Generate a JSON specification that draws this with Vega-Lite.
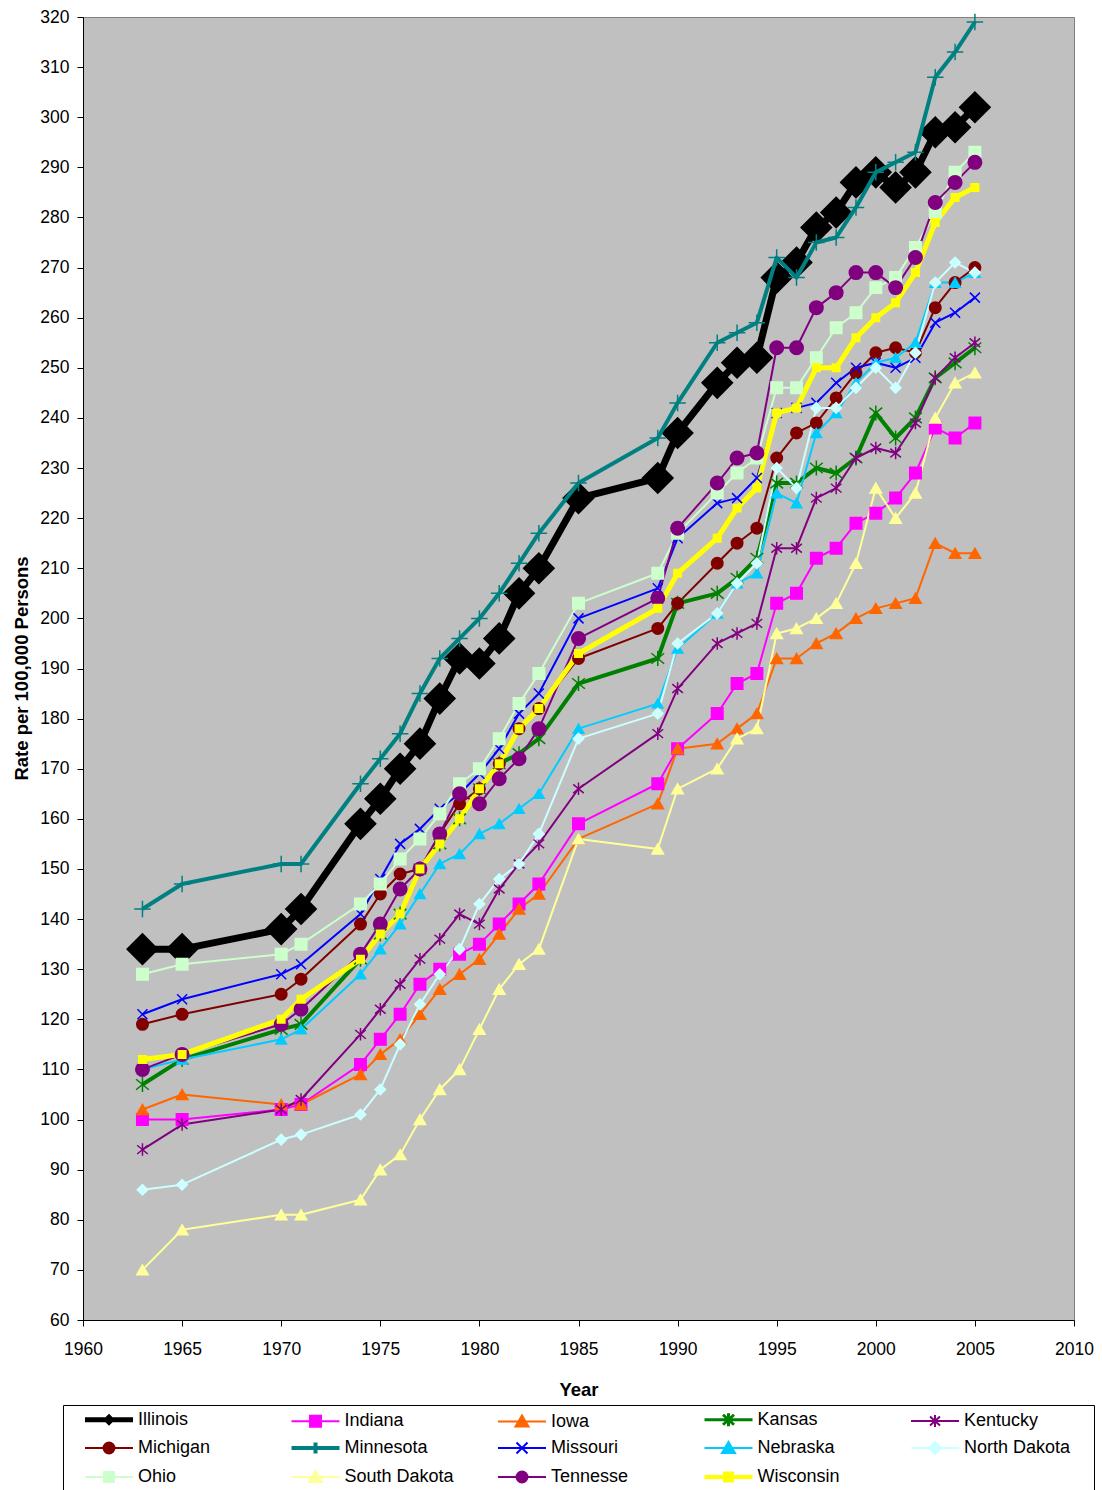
{
  "$schema": "https://vega.github.io/schema/vega-lite/v6.json",
  "width": 991,
  "height": 1303,
  "autosize": {"type": "none"},
  "padding": {"left": 83, "top": 17, "right": 28, "bottom": 170},
  "background": "white",
  "data": {
    "values": [
      {"state":"Illinois","year":1963,"rate":134},{"state":"Illinois","year":1965,"rate":134},{"state":"Illinois","year":1970,"rate":138},{"state":"Illinois","year":1971,"rate":142},{"state":"Illinois","year":1974,"rate":159},{"state":"Illinois","year":1975,"rate":164},{"state":"Illinois","year":1976,"rate":170},{"state":"Illinois","year":1977,"rate":175},{"state":"Illinois","year":1978,"rate":184},{"state":"Illinois","year":1979,"rate":192},{"state":"Illinois","year":1980,"rate":191},{"state":"Illinois","year":1981,"rate":196},{"state":"Illinois","year":1982,"rate":205},{"state":"Illinois","year":1983,"rate":210},{"state":"Illinois","year":1985,"rate":224},{"state":"Illinois","year":1989,"rate":228},{"state":"Illinois","year":1990,"rate":237},{"state":"Illinois","year":1992,"rate":247},{"state":"Illinois","year":1993,"rate":251},{"state":"Illinois","year":1994,"rate":252},{"state":"Illinois","year":1995,"rate":268},{"state":"Illinois","year":1996,"rate":271},{"state":"Illinois","year":1997,"rate":278},{"state":"Illinois","year":1998,"rate":281},{"state":"Illinois","year":1999,"rate":287},{"state":"Illinois","year":2000,"rate":289},{"state":"Illinois","year":2001,"rate":286},{"state":"Illinois","year":2002,"rate":289},{"state":"Illinois","year":2003,"rate":297},{"state":"Illinois","year":2004,"rate":298},{"state":"Illinois","year":2005,"rate":302},
      {"state":"Indiana","year":1963,"rate":100},{"state":"Indiana","year":1965,"rate":100},{"state":"Indiana","year":1970,"rate":102},{"state":"Indiana","year":1971,"rate":103},{"state":"Indiana","year":1974,"rate":111},{"state":"Indiana","year":1975,"rate":116},{"state":"Indiana","year":1976,"rate":121},{"state":"Indiana","year":1977,"rate":127},{"state":"Indiana","year":1978,"rate":130},{"state":"Indiana","year":1979,"rate":133},{"state":"Indiana","year":1980,"rate":135},{"state":"Indiana","year":1981,"rate":139},{"state":"Indiana","year":1982,"rate":143},{"state":"Indiana","year":1983,"rate":147},{"state":"Indiana","year":1985,"rate":159},{"state":"Indiana","year":1989,"rate":167},{"state":"Indiana","year":1990,"rate":174},{"state":"Indiana","year":1992,"rate":181},{"state":"Indiana","year":1993,"rate":187},{"state":"Indiana","year":1994,"rate":189},{"state":"Indiana","year":1995,"rate":203},{"state":"Indiana","year":1996,"rate":205},{"state":"Indiana","year":1997,"rate":212},{"state":"Indiana","year":1998,"rate":214},{"state":"Indiana","year":1999,"rate":219},{"state":"Indiana","year":2000,"rate":221},{"state":"Indiana","year":2001,"rate":224},{"state":"Indiana","year":2002,"rate":229},{"state":"Indiana","year":2003,"rate":238},{"state":"Indiana","year":2004,"rate":236},{"state":"Indiana","year":2005,"rate":239},
      {"state":"Iowa","year":1963,"rate":102},{"state":"Iowa","year":1965,"rate":105},{"state":"Iowa","year":1970,"rate":103},{"state":"Iowa","year":1971,"rate":103},{"state":"Iowa","year":1974,"rate":109},{"state":"Iowa","year":1975,"rate":113},{"state":"Iowa","year":1976,"rate":116},{"state":"Iowa","year":1977,"rate":121},{"state":"Iowa","year":1978,"rate":126},{"state":"Iowa","year":1979,"rate":129},{"state":"Iowa","year":1980,"rate":132},{"state":"Iowa","year":1981,"rate":137},{"state":"Iowa","year":1982,"rate":142},{"state":"Iowa","year":1983,"rate":145},{"state":"Iowa","year":1985,"rate":156},{"state":"Iowa","year":1989,"rate":163},{"state":"Iowa","year":1990,"rate":174},{"state":"Iowa","year":1992,"rate":175},{"state":"Iowa","year":1993,"rate":178},{"state":"Iowa","year":1994,"rate":181},{"state":"Iowa","year":1995,"rate":192},{"state":"Iowa","year":1996,"rate":192},{"state":"Iowa","year":1997,"rate":195},{"state":"Iowa","year":1998,"rate":197},{"state":"Iowa","year":1999,"rate":200},{"state":"Iowa","year":2000,"rate":202},{"state":"Iowa","year":2001,"rate":203},{"state":"Iowa","year":2002,"rate":204},{"state":"Iowa","year":2003,"rate":215},{"state":"Iowa","year":2004,"rate":213},{"state":"Iowa","year":2005,"rate":213},
      {"state":"Kansas","year":1963,"rate":107},{"state":"Kansas","year":1965,"rate":112},{"state":"Kansas","year":1970,"rate":118},{"state":"Kansas","year":1971,"rate":119},{"state":"Kansas","year":1974,"rate":132},{"state":"Kansas","year":1975,"rate":137},{"state":"Kansas","year":1976,"rate":141},{"state":"Kansas","year":1977,"rate":150},{"state":"Kansas","year":1978,"rate":155},{"state":"Kansas","year":1979,"rate":160},{"state":"Kansas","year":1980,"rate":166},{"state":"Kansas","year":1981,"rate":171},{"state":"Kansas","year":1982,"rate":173},{"state":"Kansas","year":1983,"rate":176},{"state":"Kansas","year":1985,"rate":187},{"state":"Kansas","year":1989,"rate":192},{"state":"Kansas","year":1990,"rate":203},{"state":"Kansas","year":1992,"rate":205},{"state":"Kansas","year":1993,"rate":208},{"state":"Kansas","year":1994,"rate":212},{"state":"Kansas","year":1995,"rate":227},{"state":"Kansas","year":1996,"rate":227},{"state":"Kansas","year":1997,"rate":230},{"state":"Kansas","year":1998,"rate":229},{"state":"Kansas","year":1999,"rate":232},{"state":"Kansas","year":2000,"rate":241},{"state":"Kansas","year":2001,"rate":236},{"state":"Kansas","year":2002,"rate":240},{"state":"Kansas","year":2003,"rate":248},{"state":"Kansas","year":2004,"rate":251},{"state":"Kansas","year":2005,"rate":254},
      {"state":"Kentucky","year":1963,"rate":94},{"state":"Kentucky","year":1965,"rate":99},{"state":"Kentucky","year":1970,"rate":102},{"state":"Kentucky","year":1971,"rate":104},{"state":"Kentucky","year":1974,"rate":117},{"state":"Kentucky","year":1975,"rate":122},{"state":"Kentucky","year":1976,"rate":127},{"state":"Kentucky","year":1977,"rate":132},{"state":"Kentucky","year":1978,"rate":136},{"state":"Kentucky","year":1979,"rate":141},{"state":"Kentucky","year":1980,"rate":139},{"state":"Kentucky","year":1981,"rate":146},{"state":"Kentucky","year":1982,"rate":151},{"state":"Kentucky","year":1983,"rate":155},{"state":"Kentucky","year":1985,"rate":166},{"state":"Kentucky","year":1989,"rate":177},{"state":"Kentucky","year":1990,"rate":186},{"state":"Kentucky","year":1992,"rate":195},{"state":"Kentucky","year":1993,"rate":197},{"state":"Kentucky","year":1994,"rate":199},{"state":"Kentucky","year":1995,"rate":214},{"state":"Kentucky","year":1996,"rate":214},{"state":"Kentucky","year":1997,"rate":224},{"state":"Kentucky","year":1998,"rate":226},{"state":"Kentucky","year":1999,"rate":232},{"state":"Kentucky","year":2000,"rate":234},{"state":"Kentucky","year":2001,"rate":233},{"state":"Kentucky","year":2002,"rate":239},{"state":"Kentucky","year":2003,"rate":248},{"state":"Kentucky","year":2004,"rate":252},{"state":"Kentucky","year":2005,"rate":255},
      {"state":"Michigan","year":1963,"rate":119},{"state":"Michigan","year":1965,"rate":121},{"state":"Michigan","year":1970,"rate":125},{"state":"Michigan","year":1971,"rate":128},{"state":"Michigan","year":1974,"rate":139},{"state":"Michigan","year":1975,"rate":145},{"state":"Michigan","year":1976,"rate":149},{"state":"Michigan","year":1977,"rate":150},{"state":"Michigan","year":1978,"rate":157},{"state":"Michigan","year":1979,"rate":163},{"state":"Michigan","year":1980,"rate":166},{"state":"Michigan","year":1981,"rate":171},{"state":"Michigan","year":1982,"rate":178},{"state":"Michigan","year":1983,"rate":182},{"state":"Michigan","year":1985,"rate":192},{"state":"Michigan","year":1989,"rate":198},{"state":"Michigan","year":1990,"rate":203},{"state":"Michigan","year":1992,"rate":211},{"state":"Michigan","year":1993,"rate":215},{"state":"Michigan","year":1994,"rate":218},{"state":"Michigan","year":1995,"rate":232},{"state":"Michigan","year":1996,"rate":237},{"state":"Michigan","year":1997,"rate":239},{"state":"Michigan","year":1998,"rate":244},{"state":"Michigan","year":1999,"rate":249},{"state":"Michigan","year":2000,"rate":253},{"state":"Michigan","year":2001,"rate":254},{"state":"Michigan","year":2002,"rate":253},{"state":"Michigan","year":2003,"rate":262},{"state":"Michigan","year":2004,"rate":267},{"state":"Michigan","year":2005,"rate":270},
      {"state":"Minnesota","year":1963,"rate":142},{"state":"Minnesota","year":1965,"rate":147},{"state":"Minnesota","year":1970,"rate":151},{"state":"Minnesota","year":1971,"rate":151},{"state":"Minnesota","year":1974,"rate":167},{"state":"Minnesota","year":1975,"rate":172},{"state":"Minnesota","year":1976,"rate":177},{"state":"Minnesota","year":1977,"rate":185},{"state":"Minnesota","year":1978,"rate":192},{"state":"Minnesota","year":1979,"rate":196},{"state":"Minnesota","year":1980,"rate":200},{"state":"Minnesota","year":1981,"rate":205},{"state":"Minnesota","year":1982,"rate":211},{"state":"Minnesota","year":1983,"rate":217},{"state":"Minnesota","year":1985,"rate":227},{"state":"Minnesota","year":1989,"rate":236},{"state":"Minnesota","year":1990,"rate":243},{"state":"Minnesota","year":1992,"rate":255},{"state":"Minnesota","year":1993,"rate":257},{"state":"Minnesota","year":1994,"rate":259},{"state":"Minnesota","year":1995,"rate":272},{"state":"Minnesota","year":1996,"rate":268},{"state":"Minnesota","year":1997,"rate":275},{"state":"Minnesota","year":1998,"rate":276},{"state":"Minnesota","year":1999,"rate":282},{"state":"Minnesota","year":2000,"rate":289},{"state":"Minnesota","year":2001,"rate":291},{"state":"Minnesota","year":2002,"rate":293},{"state":"Minnesota","year":2003,"rate":308},{"state":"Minnesota","year":2004,"rate":313},{"state":"Minnesota","year":2005,"rate":319},
      {"state":"Missouri","year":1963,"rate":121},{"state":"Missouri","year":1965,"rate":124},{"state":"Missouri","year":1970,"rate":129},{"state":"Missouri","year":1971,"rate":131},{"state":"Missouri","year":1974,"rate":141},{"state":"Missouri","year":1975,"rate":148},{"state":"Missouri","year":1976,"rate":155},{"state":"Missouri","year":1977,"rate":158},{"state":"Missouri","year":1978,"rate":162},{"state":"Missouri","year":1979,"rate":165},{"state":"Missouri","year":1980,"rate":169},{"state":"Missouri","year":1981,"rate":174},{"state":"Missouri","year":1982,"rate":181},{"state":"Missouri","year":1983,"rate":185},{"state":"Missouri","year":1985,"rate":200},{"state":"Missouri","year":1989,"rate":206},{"state":"Missouri","year":1990,"rate":216},{"state":"Missouri","year":1992,"rate":223},{"state":"Missouri","year":1993,"rate":224},{"state":"Missouri","year":1994,"rate":228},{"state":"Missouri","year":1995,"rate":241},{"state":"Missouri","year":1996,"rate":242},{"state":"Missouri","year":1997,"rate":243},{"state":"Missouri","year":1998,"rate":247},{"state":"Missouri","year":1999,"rate":250},{"state":"Missouri","year":2000,"rate":251},{"state":"Missouri","year":2001,"rate":250},{"state":"Missouri","year":2002,"rate":252},{"state":"Missouri","year":2003,"rate":259},{"state":"Missouri","year":2004,"rate":261},{"state":"Missouri","year":2005,"rate":264},
      {"state":"Nebraska","year":1963,"rate":110},{"state":"Nebraska","year":1965,"rate":112},{"state":"Nebraska","year":1970,"rate":116},{"state":"Nebraska","year":1971,"rate":118},{"state":"Nebraska","year":1974,"rate":129},{"state":"Nebraska","year":1975,"rate":134},{"state":"Nebraska","year":1976,"rate":139},{"state":"Nebraska","year":1977,"rate":145},{"state":"Nebraska","year":1978,"rate":151},{"state":"Nebraska","year":1979,"rate":153},{"state":"Nebraska","year":1980,"rate":157},{"state":"Nebraska","year":1981,"rate":159},{"state":"Nebraska","year":1982,"rate":162},{"state":"Nebraska","year":1983,"rate":165},{"state":"Nebraska","year":1985,"rate":178},{"state":"Nebraska","year":1989,"rate":183},{"state":"Nebraska","year":1990,"rate":194},{"state":"Nebraska","year":1992,"rate":201},{"state":"Nebraska","year":1993,"rate":207},{"state":"Nebraska","year":1994,"rate":209},{"state":"Nebraska","year":1995,"rate":225},{"state":"Nebraska","year":1996,"rate":223},{"state":"Nebraska","year":1997,"rate":237},{"state":"Nebraska","year":1998,"rate":241},{"state":"Nebraska","year":1999,"rate":247},{"state":"Nebraska","year":2000,"rate":251},{"state":"Nebraska","year":2001,"rate":252},{"state":"Nebraska","year":2002,"rate":255},{"state":"Nebraska","year":2003,"rate":267},{"state":"Nebraska","year":2004,"rate":267},{"state":"Nebraska","year":2005,"rate":269},
      {"state":"North Dakota","year":1963,"rate":86},{"state":"North Dakota","year":1965,"rate":87},{"state":"North Dakota","year":1970,"rate":96},{"state":"North Dakota","year":1971,"rate":97},{"state":"North Dakota","year":1974,"rate":101},{"state":"North Dakota","year":1975,"rate":106},{"state":"North Dakota","year":1976,"rate":115},{"state":"North Dakota","year":1977,"rate":123},{"state":"North Dakota","year":1978,"rate":129},{"state":"North Dakota","year":1979,"rate":134},{"state":"North Dakota","year":1980,"rate":143},{"state":"North Dakota","year":1981,"rate":148},{"state":"North Dakota","year":1982,"rate":151},{"state":"North Dakota","year":1983,"rate":157},{"state":"North Dakota","year":1985,"rate":176},{"state":"North Dakota","year":1989,"rate":181},{"state":"North Dakota","year":1990,"rate":195},{"state":"North Dakota","year":1992,"rate":201},{"state":"North Dakota","year":1993,"rate":207},{"state":"North Dakota","year":1994,"rate":211},{"state":"North Dakota","year":1995,"rate":230},{"state":"North Dakota","year":1996,"rate":226},{"state":"North Dakota","year":1997,"rate":242},{"state":"North Dakota","year":1998,"rate":242},{"state":"North Dakota","year":1999,"rate":246},{"state":"North Dakota","year":2000,"rate":250},{"state":"North Dakota","year":2001,"rate":246},{"state":"North Dakota","year":2002,"rate":253},{"state":"North Dakota","year":2003,"rate":267},{"state":"North Dakota","year":2004,"rate":271},{"state":"North Dakota","year":2005,"rate":269},
      {"state":"Ohio","year":1963,"rate":129},{"state":"Ohio","year":1965,"rate":131},{"state":"Ohio","year":1970,"rate":133},{"state":"Ohio","year":1971,"rate":135},{"state":"Ohio","year":1974,"rate":143},{"state":"Ohio","year":1975,"rate":147},{"state":"Ohio","year":1976,"rate":152},{"state":"Ohio","year":1977,"rate":156},{"state":"Ohio","year":1978,"rate":161},{"state":"Ohio","year":1979,"rate":167},{"state":"Ohio","year":1980,"rate":170},{"state":"Ohio","year":1981,"rate":176},{"state":"Ohio","year":1982,"rate":183},{"state":"Ohio","year":1983,"rate":189},{"state":"Ohio","year":1985,"rate":203},{"state":"Ohio","year":1989,"rate":209},{"state":"Ohio","year":1990,"rate":217},{"state":"Ohio","year":1992,"rate":225},{"state":"Ohio","year":1993,"rate":229},{"state":"Ohio","year":1994,"rate":232},{"state":"Ohio","year":1995,"rate":246},{"state":"Ohio","year":1996,"rate":246},{"state":"Ohio","year":1997,"rate":252},{"state":"Ohio","year":1998,"rate":258},{"state":"Ohio","year":1999,"rate":261},{"state":"Ohio","year":2000,"rate":266},{"state":"Ohio","year":2001,"rate":268},{"state":"Ohio","year":2002,"rate":274},{"state":"Ohio","year":2003,"rate":281},{"state":"Ohio","year":2004,"rate":289},{"state":"Ohio","year":2005,"rate":293},
      {"state":"South Dakota","year":1963,"rate":70},{"state":"South Dakota","year":1965,"rate":78},{"state":"South Dakota","year":1970,"rate":81},{"state":"South Dakota","year":1971,"rate":81},{"state":"South Dakota","year":1974,"rate":84},{"state":"South Dakota","year":1975,"rate":90},{"state":"South Dakota","year":1976,"rate":93},{"state":"South Dakota","year":1977,"rate":100},{"state":"South Dakota","year":1978,"rate":106},{"state":"South Dakota","year":1979,"rate":110},{"state":"South Dakota","year":1980,"rate":118},{"state":"South Dakota","year":1981,"rate":126},{"state":"South Dakota","year":1982,"rate":131},{"state":"South Dakota","year":1983,"rate":134},{"state":"South Dakota","year":1985,"rate":156},{"state":"South Dakota","year":1989,"rate":154},{"state":"South Dakota","year":1990,"rate":166},{"state":"South Dakota","year":1992,"rate":170},{"state":"South Dakota","year":1993,"rate":176},{"state":"South Dakota","year":1994,"rate":178},{"state":"South Dakota","year":1995,"rate":197},{"state":"South Dakota","year":1996,"rate":198},{"state":"South Dakota","year":1997,"rate":200},{"state":"South Dakota","year":1998,"rate":203},{"state":"South Dakota","year":1999,"rate":211},{"state":"South Dakota","year":2000,"rate":226},{"state":"South Dakota","year":2001,"rate":220},{"state":"South Dakota","year":2002,"rate":225},{"state":"South Dakota","year":2003,"rate":240},{"state":"South Dakota","year":2004,"rate":247},{"state":"South Dakota","year":2005,"rate":249},
      {"state":"Tennesse","year":1963,"rate":110},{"state":"Tennesse","year":1965,"rate":113},{"state":"Tennesse","year":1970,"rate":119},{"state":"Tennesse","year":1971,"rate":122},{"state":"Tennesse","year":1974,"rate":133},{"state":"Tennesse","year":1975,"rate":139},{"state":"Tennesse","year":1976,"rate":146},{"state":"Tennesse","year":1977,"rate":150},{"state":"Tennesse","year":1978,"rate":157},{"state":"Tennesse","year":1979,"rate":165},{"state":"Tennesse","year":1980,"rate":163},{"state":"Tennesse","year":1981,"rate":168},{"state":"Tennesse","year":1982,"rate":172},{"state":"Tennesse","year":1983,"rate":178},{"state":"Tennesse","year":1985,"rate":196},{"state":"Tennesse","year":1989,"rate":204},{"state":"Tennesse","year":1990,"rate":218},{"state":"Tennesse","year":1992,"rate":227},{"state":"Tennesse","year":1993,"rate":232},{"state":"Tennesse","year":1994,"rate":233},{"state":"Tennesse","year":1995,"rate":254},{"state":"Tennesse","year":1996,"rate":254},{"state":"Tennesse","year":1997,"rate":262},{"state":"Tennesse","year":1998,"rate":265},{"state":"Tennesse","year":1999,"rate":269},{"state":"Tennesse","year":2000,"rate":269},{"state":"Tennesse","year":2001,"rate":266},{"state":"Tennesse","year":2002,"rate":272},{"state":"Tennesse","year":2003,"rate":283},{"state":"Tennesse","year":2004,"rate":287},{"state":"Tennesse","year":2005,"rate":291},
      {"state":"Wisconsin","year":1963,"rate":112},{"state":"Wisconsin","year":1965,"rate":113},{"state":"Wisconsin","year":1970,"rate":120},{"state":"Wisconsin","year":1971,"rate":124},{"state":"Wisconsin","year":1974,"rate":132},{"state":"Wisconsin","year":1975,"rate":137},{"state":"Wisconsin","year":1976,"rate":141},{"state":"Wisconsin","year":1977,"rate":150},{"state":"Wisconsin","year":1978,"rate":155},{"state":"Wisconsin","year":1979,"rate":160},{"state":"Wisconsin","year":1980,"rate":166},{"state":"Wisconsin","year":1981,"rate":171},{"state":"Wisconsin","year":1982,"rate":178},{"state":"Wisconsin","year":1983,"rate":182},{"state":"Wisconsin","year":1985,"rate":193},{"state":"Wisconsin","year":1989,"rate":202},{"state":"Wisconsin","year":1990,"rate":209},{"state":"Wisconsin","year":1992,"rate":216},{"state":"Wisconsin","year":1993,"rate":222},{"state":"Wisconsin","year":1994,"rate":226},{"state":"Wisconsin","year":1995,"rate":241},{"state":"Wisconsin","year":1996,"rate":242},{"state":"Wisconsin","year":1997,"rate":250},{"state":"Wisconsin","year":1998,"rate":250},{"state":"Wisconsin","year":1999,"rate":256},{"state":"Wisconsin","year":2000,"rate":260},{"state":"Wisconsin","year":2001,"rate":263},{"state":"Wisconsin","year":2002,"rate":269},{"state":"Wisconsin","year":2003,"rate":279},{"state":"Wisconsin","year":2004,"rate":284},{"state":"Wisconsin","year":2005,"rate":286}
    ]
  },
  "encoding": {
    "x": {
      "field": "year",
      "type": "quantitative",
      "title": "Year",
      "scale": {"domain": [1960, 2010], "nice": false, "zero": false},
      "axis": {
        "values": [1960, 1965, 1970, 1975, 1980, 1985, 1990, 1995, 2000, 2005, 2010],
        "format": "d",
        "grid": false,
        "labelFlush": false,
        "tickSize": 6,
        "labelPadding": 14,
        "titleY": 75,
        "titleBaseline": "alphabetic"
      }
    },
    "y": {
      "field": "rate",
      "type": "quantitative",
      "title": "Rate per 100,000 Persons",
      "scale": {"domain": [60, 320], "nice": false, "zero": false},
      "axis": {
        "values": [60, 70, 80, 90, 100, 110, 120, 130, 140, 150, 160, 170, 180, 190, 200, 210, 220, 230, 240, 250, 260, 270, 280, 290, 300, 310, 320],
        "grid": false,
        "tickSize": 6,
        "labelPadding": 8,
        "titleAngle": 270,
        "titleX": -56,
        "titleY": 651,
        "titleAlign": "center",
        "titleBaseline": "alphabetic"
      }
    },
    "color": {
      "field": "state",
      "type": "nominal",
      "scale": {
        "domain": ["Illinois", "Indiana", "Iowa", "Kansas", "Kentucky", "Michigan", "Minnesota", "Missouri", "Nebraska", "North Dakota", "Ohio", "South Dakota", "Tennesse", "Wisconsin"],
        "range": ["#000000", "#FF00FF", "#FF6600", "#008000", "#800080", "#800000", "#008080", "#0000FF", "#00CCFF", "#CCFFFF", "#CCFFCC", "#FFFF99", "#800080", "#FFFF00"]
      },
      "legend": {
        "title": null,
        "orient": "none",
        "legendX": -20,
        "legendY": 1388,
        "direction": "horizontal",
        "columns": 5,
        "gridAlign": "all",
        "columnPadding": -4.5,
        "rowPadding": 1,
        "padding": 4,
        "strokeColor": "#000000",
        "fillColor": "#FFFFFF",
        "labelFontSize": 18,
        "labelColor": "#000000",
        "labelLimit": 200,
        "symbolSize": 100,
        "encoding": {
          "symbols": {
            "shape": {"value": {"expr": "['M-4.8,0H4.8M-0.5,0L0,-0.5L0.5,0L0,0.5Z','M-4.8,0H4.8M-1.1,-1.1H1.1V1.1H-1.1Z','M-4.8,0H4.8M0,-1.2L1.3,1H-1.3Z','M-4.8,0H4.8M0,-1.3V1.3M-1.1,-1L1.1,1M-1.1,1L1.1,-1','M-4.8,0H4.8M0,-1.2V1.2M-1,-0.9L1,0.9M-1,0.9L1,-0.9','M-4.8,0H4.8M-1.1,0A1.1,1.1,0,1,1,1.1,0A1.1,1.1,0,1,1,-1.1,0Z','M-4.8,0H4.8M0,-1.1V1.1','M-4.8,0H4.8M-1.1,-1.1L1.1,1.1M-1.1,1.1L1.1,-1.1','M-4.8,0H4.8M0,-1.2L1.3,1H-1.3Z','M-4.8,0H4.8M-1.2,0L0,-1.2L1.2,0L0,1.2Z','M-4.8,0H4.8M-1,-1H1V1H-1Z','M-4.8,0H4.8M0,-1.2L1.3,1H-1.3Z','M-4.8,0H4.8M-1.1,0A1.1,1.1,0,1,1,1.1,0A1.1,1.1,0,1,1,-1.1,0Z','M-4.8,0H4.8M-0.7,-0.7H0.7V0.7H-0.7Z'][indexof(['Illinois','Indiana','Iowa','Kansas','Kentucky','Michigan','Minnesota','Missouri','Nebraska','North Dakota','Ohio','South Dakota','Tennesse','Wisconsin'], datum.value)] + 'M-8.4,0M30.2,0'"}},
            "size": {"value": 100},
            "x": {"value": 42},
            "y": {"value": 10},
            "fill": {"value": {"expr": "scale('color', datum.value)"}},
            "stroke": {"value": {"expr": "scale('color', datum.value)"}},
            "strokeWidth": {"value": {"expr": "[5,2,2,3,2,2,4,2,2,2,2,2,2,4][indexof(['Illinois','Indiana','Iowa','Kansas','Kentucky','Michigan','Minnesota','Missouri','Nebraska','North Dakota','Ohio','South Dakota','Tennesse','Wisconsin'], datum.value)]"}},
            "opacity": {"value": 1}
          },
          "labels": {
            "x": {"value": 71},
            "y": {"value": 10}
          }
        }
      }
    }
  },
  "layer": [
    {
      "transform": [{"filter": "datum.state === 'Illinois'"}],
      "mark": {"type": "line", "strokeJoin": "round"},
      "encoding": {
        "strokeWidth": {
          "field": "state",
          "type": "nominal",
          "scale": {
            "type": "ordinal",
            "domain": ["Illinois", "Indiana", "Iowa", "Kansas", "Kentucky", "Michigan", "Minnesota", "Missouri", "Nebraska", "North Dakota", "Ohio", "South Dakota", "Tennesse", "Wisconsin", "-"],
            "range": [7, 2, 2, 4, 2, 2, 4, 2, 2, 2, 2, 2, 2, 5, 1]
          },
          "legend": null
        }
      }
    },
    {
      "transform": [{"filter": "datum.state === 'Illinois'"}],
      "mark": {"type": "point", "filled": true, "opacity": 1, "strokeWidth": 1.5},
      "encoding": {
        "shape": {
          "field": "state",
          "type": "nominal",
          "scale": {
            "domain": ["Illinois", "Indiana", "Iowa", "Kansas", "Kentucky", "Michigan", "Minnesota", "Missouri", "Nebraska", "North Dakota", "Ohio", "South Dakota", "Tennesse", "Wisconsin", "--"],
            "range": ["diamond", "square", "triangle-up", "M0,-1V1M-0.85,-0.7L0.85,0.7M-0.85,0.7L0.85,-0.7", "M0,-1V1M-0.85,-0.7L0.85,0.7M-0.85,0.7L0.85,-0.7", "circle", "M-1,0H1M0,-1V1", "M-1,-1L1,1M-1,1L1,-1", "triangle-up", "diamond", "square", "triangle-up", "circle", "square", "circle"]
          },
          "legend": null
        },
        "size": {
          "field": "state",
          "type": "nominal",
          "scale": {
            "type": "ordinal",
            "domain": ["Illinois", "Indiana", "Iowa", "Kansas", "Kentucky", "Michigan", "Minnesota", "Missouri", "Nebraska", "North Dakota", "Ohio", "South Dakota", "Tennesse", "Wisconsin", "---"],
            "range": [930, 132, 132, 225, 156, 132, 272, 100, 110, 110, 132, 132, 182, 56, 10]
          },
          "legend": null
        },
        "stroke": {
          "field": "state",
          "type": "nominal",
          "scale": {
            "domain": ["Illinois", "Indiana", "Iowa", "Kansas", "Kentucky", "Michigan", "Minnesota", "Missouri", "Nebraska", "North Dakota", "Ohio", "South Dakota", "Tennesse", "Wisconsin", "----"],
            "range": ["#000000", "#FF00FF", "#FF6600", "#008000", "#800080", "#800000", "#008080", "#0000FF", "#00CCFF", "#CCFFFF", "#CCFFCC", "#FFFF99", "#800080", "#FFFF00", "#000000"]
          },
          "legend": null
        }
      }
    },
    {
      "transform": [{"filter": "datum.state !== 'Illinois'"}],
      "mark": {"type": "line", "strokeJoin": "round"},
      "encoding": {
        "strokeWidth": {
          "field": "state",
          "type": "nominal",
          "scale": {
            "type": "ordinal",
            "domain": ["Illinois", "Indiana", "Iowa", "Kansas", "Kentucky", "Michigan", "Minnesota", "Missouri", "Nebraska", "North Dakota", "Ohio", "South Dakota", "Tennesse", "Wisconsin", "-"],
            "range": [7, 2, 2, 4, 2, 2, 4, 2, 2, 2, 2, 2, 2, 5, 1]
          },
          "legend": null
        }
      }
    },
    {
      "transform": [{"filter": "datum.state !== 'Illinois'"}],
      "mark": {"type": "point", "filled": true, "opacity": 1, "strokeWidth": 1.5},
      "encoding": {
        "shape": {
          "field": "state",
          "type": "nominal",
          "scale": {
            "domain": ["Illinois", "Indiana", "Iowa", "Kansas", "Kentucky", "Michigan", "Minnesota", "Missouri", "Nebraska", "North Dakota", "Ohio", "South Dakota", "Tennesse", "Wisconsin", "--"],
            "range": ["diamond", "square", "triangle-up", "M0,-1V1M-0.85,-0.7L0.85,0.7M-0.85,0.7L0.85,-0.7", "M0,-1V1M-0.85,-0.7L0.85,0.7M-0.85,0.7L0.85,-0.7", "circle", "M-1,0H1M0,-1V1", "M-1,-1L1,1M-1,1L1,-1", "triangle-up", "diamond", "square", "triangle-up", "circle", "square", "circle"]
          },
          "legend": null
        },
        "size": {
          "field": "state",
          "type": "nominal",
          "scale": {
            "type": "ordinal",
            "domain": ["Illinois", "Indiana", "Iowa", "Kansas", "Kentucky", "Michigan", "Minnesota", "Missouri", "Nebraska", "North Dakota", "Ohio", "South Dakota", "Tennesse", "Wisconsin", "---"],
            "range": [930, 132, 132, 225, 156, 132, 272, 100, 110, 110, 132, 132, 182, 56, 10]
          },
          "legend": null
        },
        "stroke": {
          "field": "state",
          "type": "nominal",
          "scale": {
            "domain": ["Illinois", "Indiana", "Iowa", "Kansas", "Kentucky", "Michigan", "Minnesota", "Missouri", "Nebraska", "North Dakota", "Ohio", "South Dakota", "Tennesse", "Wisconsin", "----"],
            "range": ["#000000", "#FF00FF", "#FF6600", "#008000", "#800080", "#800000", "#008080", "#0000FF", "#00CCFF", "#CCFFFF", "#CCFFCC", "#FFFF99", "#800080", "#FFFF00", "#000000"]
          },
          "legend": null
        }
      }
    }
  ],
  "config": {
    "font": "Liberation Sans",
    "view": {"fill": "#C0C0C0", "stroke": "#808080", "strokeWidth": 1},
    "axis": {
      "domainColor": "#000000",
      "tickColor": "#000000",
      "labelColor": "#000000",
      "titleColor": "#000000",
      "labelFontSize": 17.5,
      "titleFontSize": 18.5,
      "titleFontWeight": "bold",
      "labelFont": "Liberation Sans",
      "titleFont": "Liberation Sans"
    },
    "legend": {"labelFont": "Liberation Sans"}
  }
}
